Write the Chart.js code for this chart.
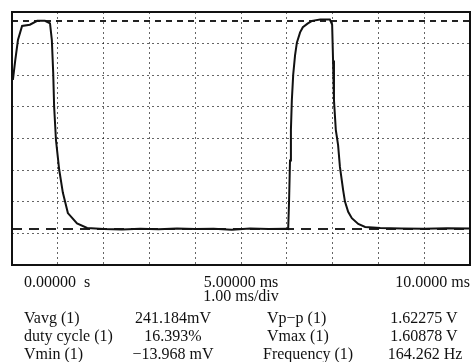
<!DOCTYPE html>
<html>
<head>
<meta charset="utf-8">
<script src="https://cdn.jsdelivr.net/npm/chart.js@4/dist/chart.umd.min.js"></script>
<style>
  html, body { margin: 0; padding: 0; background: #fff; }
  #wrap { position: relative; width: 475px; height: 362px; overflow: hidden; }
  #wrap canvas { position: absolute; left: 0; top: 0; }
  .t { position: absolute; font-family: "Liberation Serif", "Times New Roman", serif; font-size: 16px; line-height: 18px; color: #111; white-space: pre; }
  .c { transform: translateX(-50%); }
</style>
</head>
<body>
<div id="wrap">
  <canvas id="c" width="475" height="362"></canvas>
  <div class="t" style="left:24px; top:309px;">Vavg (1)</div>
  <div class="t" style="left:24px; top:327px;">duty cycle (1)</div>
  <div class="t" style="left:24px; top:345px;">Vmin (1)</div>
  <div class="t c" style="left:173px; top:309px;">241.184mV</div>
  <div class="t c" style="left:173px; top:327px;">16.393%</div>
  <div class="t c" style="left:173px; top:345px;">−13.968 mV</div>
  <div class="t" style="left:267px; top:309px;">Vp−p (1)</div>
  <div class="t" style="left:267px; top:327px;">Vmax (1)</div>
  <div class="t" style="left:263px; top:345px;">Frequency (1)</div>
  <div class="t c" style="left:424px; top:309px;">1.62275 V</div>
  <div class="t c" style="left:424px; top:327px;">1.60878 V</div>
  <div class="t c" style="left:425px; top:345px;">164.262 Hz</div>
</div>
<script>
// ---- data (time in ms, voltage in V) ----
const timeMs = [
  0.02, 0.07, 0.13, 0.22, 0.39, 0.55, 0.72, 0.83, 0.87, 0.90,
  0.92, 0.96, 1.03, 1.11, 1.22, 1.42, 1.64, 2.00, 2.40, 2.80,
  3.20, 3.60, 4.00, 4.40, 4.80, 5.20, 5.60, 6.00, 6.03, 6.05,
  6.07, 6.09, 6.11, 6.14, 6.18, 6.22, 6.29, 6.35, 6.46, 6.55,
  6.73, 6.94, 6.99, 7.01, 7.03, 7.07, 7.12, 7.16, 7.23, 7.27,
  7.34, 7.42, 7.56, 7.71, 8.04, 8.50, 9.00, 9.50, 10.00
];
const volts = [
  1.15, 1.30, 1.46, 1.57, 1.58, 1.61, 1.61, 1.59, 1.46, 1.20,
  0.94, 0.68, 0.45, 0.27, 0.11, 0.03, -0.006, -0.014, -0.018, -0.012,
  -0.016, -0.010, -0.015, -0.013, -0.019, -0.011, -0.015, -0.012, -0.014, 0.21,
  0.52, 0.76, 0.99, 1.19, 1.34, 1.44, 1.52, 1.56, 1.59, 1.61,
  1.62, 1.62, 1.58, 1.30, 0.99, 0.76, 0.64, 0.47, 0.29, 0.20,
  0.12, 0.07, 0.025, 0.002, -0.006, -0.010, -0.012, -0.009, -0.011
];
const vMax = 1.60878;
const vMin = -0.013968;
const xRange = [0, 10];
const yRange = [-0.295, 1.679];
const xGridDivs = 10;
const yGridDivs = 8;
const xTickValues = [0, 5, 10];
const xTickLabels = ['   0.00000  s', '5.00000 ms', '10.0000 ms'];
const xTitle = '1.00 ms/div';

const traceData = timeMs.map((t, i) => ({ x: t, y: volts[i] }));
const xGrid = Array.from({ length: xGridDivs + 1 }, (_, k) => xRange[0] + k * (xRange[1] - xRange[0]) / xGridDivs);
const yGrid = Array.from({ length: yGridDivs + 1 }, (_, k) => yRange[0] + k * (yRange[1] - yRange[0]) / yGridDivs);

const framePlugin = {
  id: 'frame',
  afterDraw(chart) {
    const { ctx, chartArea: a } = chart;
    ctx.save();
    ctx.strokeStyle = '#111';
    ctx.lineWidth = 2;
    ctx.setLineDash([]);
    ctx.strokeRect(a.left, a.top, a.right - a.left, a.bottom - a.top);
    ctx.restore();
  }
};

new Chart(document.getElementById('c'), {
  type: 'line',
  data: {
    datasets: [
      {
        label: 'Channel 1',
        data: traceData,
        borderColor: '#111',
        borderWidth: 2,
        pointRadius: 0,
        tension: 0,
        fill: false,
        order: 0
      },
      {
        label: 'Vmax cursor',
        data: [{ x: xRange[0], y: vMax }, { x: xRange[1], y: vMax }],
        borderColor: '#222',
        borderWidth: 2,
        borderDash: [6, 5],
        pointRadius: 0,
        fill: false,
        order: 1
      },
      {
        label: 'Vmin cursor',
        data: [{ x: xRange[0], y: vMin }, { x: xRange[1], y: vMin }],
        borderColor: '#222',
        borderWidth: 2,
        borderDash: [10, 7],
        pointRadius: 0,
        fill: false,
        order: 1
      }
    ]
  },
  options: {
    responsive: false,
    maintainAspectRatio: false,
    animation: false,
    devicePixelRatio: 1,
    layout: { padding: { left: 12, right: 5, top: 12, bottom: 57 } },
    plugins: { legend: { display: false }, tooltip: { enabled: false } },
    scales: {
      x: {
        type: 'linear',
        min: xRange[0],
        max: xRange[1],
        afterBuildTicks: s => { s.ticks = xGrid.map(v => ({ value: v })); },
        afterFit: s => { s.height = 40; s.paddingLeft = 0; s.paddingRight = 0; },
        grid: { color: 'rgba(0,0,0,0.6)', lineWidth: 1, drawTicks: false },
        border: { display: false, dash: [2, 3] },
        ticks: {
          autoSkip: false,
          maxRotation: 0,
          align: 'inner',
          padding: 8,
          color: '#111',
          font: { family: 'Liberation Serif', size: 16 },
          callback: v => {
            const i = xTickValues.findIndex(t => Math.abs(t - v) < 1e-6);
            return i >= 0 ? xTickLabels[i] : '';
          }
        },
        title: {
          display: true,
          text: xTitle,
          color: '#111',
          padding: 0,
          font: { family: 'Liberation Serif', size: 16, lineHeight: 1 }
        }
      },
      y: {
        type: 'linear',
        min: yRange[0],
        max: yRange[1],
        afterBuildTicks: s => { s.ticks = yGrid.map(v => ({ value: v })); },
        afterFit: s => { s.width = 0; s.paddingTop = 0; s.paddingBottom = 0; },
        grid: { color: 'rgba(0,0,0,0.6)', lineWidth: 1, drawTicks: false },
        border: { display: false, dash: [2, 3] },
        ticks: { display: false }
      }
    }
  },
  plugins: [framePlugin]
});
</script>
</body>
</html>
